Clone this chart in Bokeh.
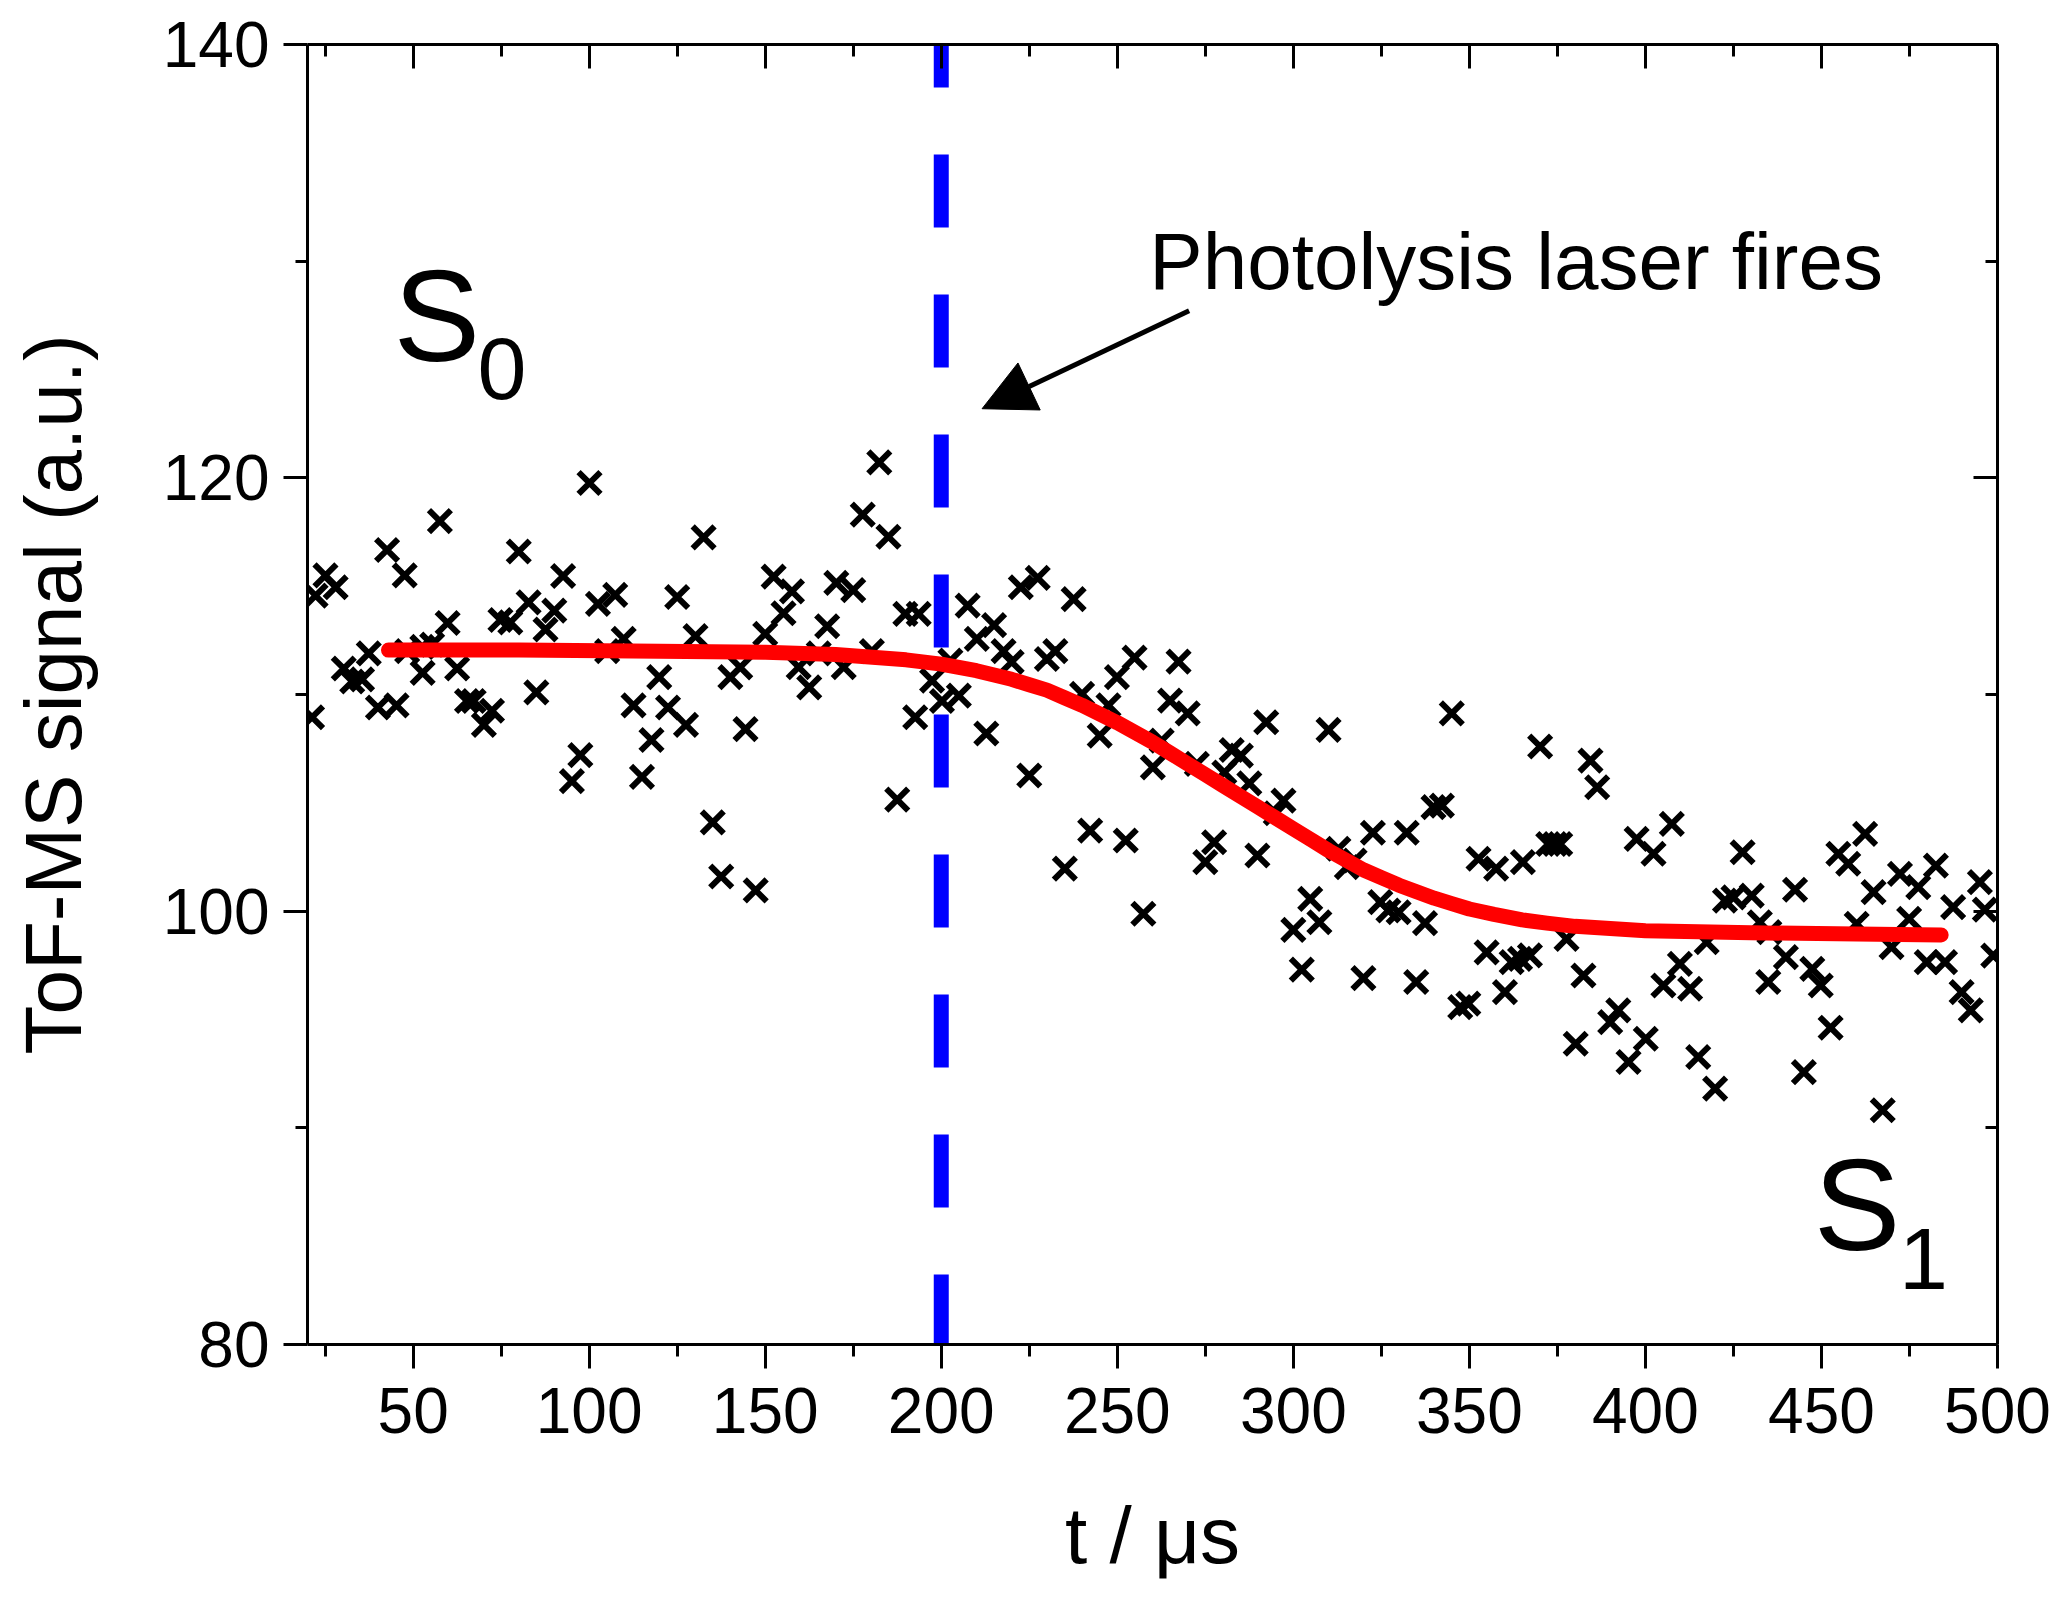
from bokeh.plotting import figure
from bokeh.models import LinearAxis, FixedTicker, Label, Arrow, NormalHead
from bokeh.embed import file_html
from bokeh.resources import INLINE

# measured ToF-MS signal (time in microseconds, signal in a.u.)
t_us = [21.3, 22.3, 25.1, 28.0, 30.3, 32.7, 35.5, 37.4, 40.0, 42.6,
        45.3, 47.6, 48.3, 52.6, 52.7, 55.4, 57.6, 59.8, 62.5, 65.3,
        67.2, 70.1, 72.4, 74.8, 77.6, 80.0, 82.8, 85.0, 87.6, 90.1,
        92.6, 95.1, 97.5, 100.1, 102.5, 105.1, 107.4, 109.8, 112.6, 115.0,
        117.7, 119.9, 122.4, 125.0, 127.5, 130.2, 132.5, 135.1, 137.5, 140.1,
        142.9, 144.4, 147.3, 150.0, 152.4, 155.2, 157.6, 159.5, 162.5, 165.2,
        167.6, 170.2, 172.3, 175.0, 177.7, 180.3, 182.4, 185.0, 187.5, 189.8,
        192.6, 193.6, 197.4, 200.2, 202.6, 205.0, 207.5, 210.1, 212.8, 215.0,
        217.7, 220.0, 222.6, 225.0, 227.4, 230.0, 232.4, 235.1, 237.6, 240.0,
        242.3, 245.0, 247.5, 249.9, 252.4, 254.9, 257.4, 260.1, 262.6, 265.0,
        267.4, 270.0, 272.6, 275.0, 277.5, 280.4, 282.5, 285.1, 287.5, 289.8,
        292.3, 295.0, 297.2, 300.0, 302.4, 304.8, 307.4, 310.0, 312.8, 315.2,
        317.4, 319.9, 322.6, 324.7, 327.0, 329.9, 332.2, 334.9, 337.4, 339.8,
        342.2, 345.0, 347.4, 349.7, 352.6, 354.9, 357.6, 360.1, 362.0, 364.4,
        365.2, 367.2, 370.1, 372.4, 374.3, 375.8, 377.6, 380.2, 382.4, 384.4,
        386.3, 390.0, 392.3, 395.2, 397.5, 400.1, 402.3, 405.1, 407.5, 409.8,
        412.7, 415.0, 417.4, 419.8, 422.6, 425.0, 427.6, 430.2, 432.5, 434.9,
        435.2, 439.9, 442.5, 445.0, 447.4, 449.8, 452.6, 454.8, 457.6, 460.0,
        462.4, 464.8, 467.4, 469.9, 472.3, 474.9, 477.5, 479.9, 482.5, 485.1,
        487.4, 489.8, 492.4, 495.0, 496.4, 498.8]
signal = [108.95, 114.56, 115.5, 114.95, 111.2, 110.6, 110.7, 111.9, 109.4, 116.67,
          109.5, 115.5, 112.0, 112.2, 111.0, 112.3, 118.0, 113.3, 111.2, 109.7,
          109.7, 108.6, 109.25, 113.44, 113.33, 116.6, 114.25, 110.1, 113.0, 113.87,
          115.47, 106.0, 107.2, 119.76, 114.18, 112.0, 114.6, 112.57, 109.5, 106.2,
          107.9, 110.8, 109.4, 114.5, 108.6, 112.7, 117.25, 104.1, 101.6, 110.8,
          111.25, 108.4, 100.96, 112.8, 115.44, 113.75, 114.76, 111.26, 110.33, 111.9,
          113.15, 115.15, 111.26, 114.82, 118.3, 112.0, 120.71, 117.28, 105.15, 113.72,
          108.95, 113.72, 110.64, 109.7, 111.56, 109.95, 114.1, 112.57, 108.2, 113.2,
          112.0, 111.5, 114.95, 106.26, 115.38, 111.64, 112.0, 101.96, 114.4, 110.03,
          103.72, 108.1, 109.5, 110.8, 103.26, 111.7, 99.88, 106.64, 107.87, 109.72,
          111.52, 109.13, 106.8, 102.26, 103.18, 106.4, 107.44, 107.18, 105.9, 102.57,
          108.72, 104.52, 105.1, 99.14, 97.3, 100.57, 99.49, 108.37, 102.88, 102.03,
          102.34, 96.91, 103.62, 100.42, 100.03, 99.95, 103.62, 96.73, 99.45, 104.8,
          104.87, 109.13, 95.57, 95.73, 102.42, 98.1, 101.96, 96.26, 97.65, 97.8,
          102.26, 97.96, 107.6, 103.1, 103.1, 103.1, 98.72, 93.88, 97.03, 106.95,
          105.72, 94.88, 95.42, 93.04, 103.34, 94.11, 102.65, 96.57, 104.03, 97.57,
          96.42, 93.27, 98.57, 91.81, 100.49, 100.64, 102.72, 100.72, 99.49, 96.73,
          99.03, 97.88, 100.99, 92.57, 97.34, 96.57, 94.62, 102.65, 102.19, 99.42,
          103.57, 100.88, 90.81, 98.34, 101.72, 99.65, 101.11, 97.65, 102.1, 97.65,
          100.19, 96.26, 95.42, 101.34, 100.07, 97.95]

# fitted step
fit_t = [43, 80, 120, 150, 170, 190, 200, 205, 210, 215, 220, 225, 230, 235,
         240, 245, 250, 255, 260, 265, 270, 275, 280, 285, 290, 295, 300, 305,
         310, 315, 320, 325, 330, 335, 340, 345, 350, 357, 365, 372, 380, 390,
         400, 430, 460, 484]
fit_s = [112.05, 112.05, 112.0, 111.95, 111.85, 111.6, 111.4, 111.25, 111.1, 110.9,
         110.7, 110.45, 110.2, 109.85, 109.5, 109.1, 108.7, 108.25, 107.8, 107.3,
         106.8, 106.3, 105.8, 105.3, 104.8, 104.3, 103.8, 103.3, 102.8, 102.35,
         101.9, 101.55, 101.2, 100.9, 100.6, 100.35, 100.1, 99.85, 99.6, 99.45,
         99.3, 99.2, 99.1, 99.0, 98.95, 98.9]

laser_t = 200
x_ticks = [50, 100, 150, 200, 250, 300, 350, 400, 450, 500]
x_minor = [25, 75, 125, 175, 225, 275, 325, 375, 425, 475]
y_ticks = [80, 100, 120, 140]
y_minor = [90, 110, 130]
x_lim = (20, 500)
y_lim = (80, 140)

FONT = "Liberation Sans"

p = figure(frame_width=1690, frame_height=1300,
           x_range=x_lim, y_range=y_lim,
           min_border_left=307, min_border_right=54,
           min_border_top=44, min_border_bottom=243,
           output_backend="svg", toolbar_location=None,
           outline_line_color=None, background_fill_color="white")
p.grid.visible = False


def style_axis(ax, ticks, minor, outside):
    ax.ticker = FixedTicker(ticks=ticks, minor_ticks=minor)
    ax.axis_line_width = 3
    ax.axis_line_color = "black"
    ax.major_tick_line_width = 3
    ax.minor_tick_line_width = 3
    ax.major_tick_line_color = "black"
    ax.minor_tick_line_color = "black"
    if outside:
        ax.major_tick_out, ax.major_tick_in = 24, 0
        ax.minor_tick_out, ax.minor_tick_in = 12, 0
        ax.major_label_text_font = FONT
        ax.major_label_text_font_size = "64px"
        ax.major_label_text_color = "black"
        ax.axis_label_text_font = FONT
        ax.axis_label_text_font_size = "80px"
        ax.axis_label_text_font_style = "normal"
        ax.axis_label_text_color = "black"
    else:
        ax.major_tick_out, ax.major_tick_in = 0, 24
        ax.minor_tick_out, ax.minor_tick_in = 0, 12
        ax.major_label_overrides = {v: "" for v in ticks}
        ax.major_label_text_font_size = "1px"
        ax.major_label_standoff = 0


xa = p.xaxis[0]
style_axis(xa, x_ticks, x_minor, True)
xa.axis_label = "t / \u03bcs"
xa.major_label_standoff = 19
xa.axis_label_standoff = 55

ya = p.yaxis[0]
style_axis(ya, y_ticks, y_minor, True)
ya.axis_label = "ToF-MS signal (a.u.)"
ya.major_label_standoff = 14
ya.axis_label_standoff = 62

top = LinearAxis()
style_axis(top, x_ticks, x_minor, False)
p.add_layout(top, "above")
right = LinearAxis()
style_axis(right, y_ticks, y_minor, False)
p.add_layout(right, "right")

# data points
p.scatter(t_us, signal, marker="x", size=31, line_width=6, line_color="black")

# photolysis laser time
p.line([laser_t, laser_t], [y_lim[1], y_lim[0]], line_color="#0000ff",
       line_width=15, line_dash="73 67", line_dash_offset=30)

# fit
p.line(fit_t, fit_s, line_color="#ff0000", line_width=15, line_cap="round",
       line_join="round")


def label(x, y, text, size):
    p.add_layout(Label(x=x, y=y, text=text, text_font=FONT, text_font_size=size,
                       text_color="black", text_baseline="bottom",
                       text_align="left"))


# annotations
label(259.1, 127.95, "Photolysis laser fires", "80px")
p.add_layout(Arrow(x_start=270.4, y_start=127.71, x_end=211.6, y_end=123.19,
                   line_width=5, line_color="black",
                   end=NormalHead(size=52, fill_color="black", line_color="black")))

label(44.4, 124.1, "S", "130px")
label(68.3, 123.65, "0", "88px")
label(447.8, 83.05, "S", "130px")
label(472.0, 82.55, "1", "88px")

open("out.html", "w").write(file_html(p, INLINE))
